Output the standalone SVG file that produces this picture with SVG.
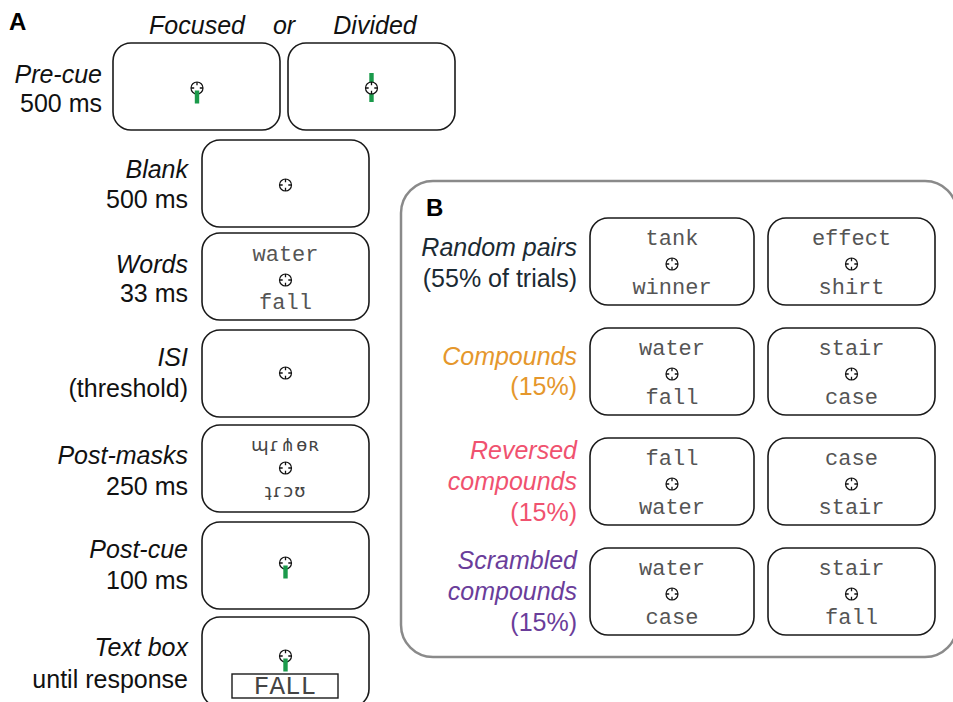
<svg xmlns="http://www.w3.org/2000/svg" xmlns:xlink="http://www.w3.org/1999/xlink" width="953" height="702" viewBox="0 0 953 702">
<style>
.box{fill:#fff;stroke:#1a1a1a;stroke-width:1.6}
.lbl{font-family:"Liberation Sans",Arial,sans-serif;font-size:25px;fill:#111;text-anchor:end}
.it{font-style:italic}
.hd{font-family:"Liberation Sans",Arial,sans-serif;font-size:25px;font-style:italic;fill:#111;text-anchor:middle}
.pl{font-family:"Liberation Sans",Arial,sans-serif;font-size:24px;font-weight:bold;fill:#000}
.w{font-family:"Liberation Mono","Courier New",monospace;font-size:22px;fill:#555;text-anchor:middle}
.m{font-family:"DejaVu Sans",sans-serif;font-size:18px;fill:#444;text-anchor:middle;letter-spacing:1px}
.cue{fill:#1b9a4b}
</style>
<defs>
<g id="fix">
<circle r="6" fill="#fff" stroke="#111" stroke-width="1.2"/>
<path d="M0,-6V-2.8M0,6V2.8M-6,0H-2.8M6,0H2.8" stroke="#111" stroke-width="1.3"/>
</g>
<g id="fixc">
<circle r="6" fill="#fff" stroke="#111" stroke-width="1.2"/>
<rect x="-2.2" y="2.5" width="4.4" height="13" class="cue"/>
<path d="M0,-6V-2.8M-6,0H-2.8M6,0H2.8" stroke="#111" stroke-width="1.3"/>
</g>
</defs>

<text x="9" y="30" class="pl">A</text>
<text x="197" y="34" class="hd">Focused</text>
<text x="284" y="34" class="hd">or</text>
<text x="375" y="34" class="hd">Divided</text>

<g id="precue-focused">
<rect x="113" y="43" width="167" height="87" rx="18" class="box"/>
<use xlink:href="#fixc" x="197" y="88"/>
</g>
<g id="precue-divided">
<rect x="288" y="43" width="167" height="87" rx="18" class="box"/>
<rect x="369.3" y="73" width="4.4" height="29" class="cue"/>
<use xlink:href="#fix" x="371.5" y="88"/>
</g>
<g id="label-precue">
<text x="102" y="83" class="lbl it">Pre-cue</text>
<text x="102" y="112" class="lbl">500 ms</text>
</g>

<g id="blank">
<rect x="202" y="140" width="167" height="87" rx="18" class="box"/>
<use xlink:href="#fix" x="285.5" y="185"/>
<text x="188" y="178" class="lbl it">Blank</text>
<text x="188" y="208" class="lbl">500 ms</text>
</g>

<g id="words">
<rect x="202" y="233" width="167" height="87" rx="18" class="box"/>
<text x="285.5" y="261" class="w">water</text>
<use xlink:href="#fix" x="285.5" y="280"/>
<text x="285.5" y="309" class="w">fall</text>
<text x="188" y="273" class="lbl it">Words</text>
<text x="188" y="302" class="lbl">33 ms</text>
</g>

<g id="isi">
<rect x="202" y="330" width="167" height="87" rx="18" class="box"/>
<use xlink:href="#fix" x="285.5" y="373"/>
<text x="188" y="366" class="lbl it">ISI</text>
<text x="188" y="397" class="lbl">(threshold)</text>
</g>

<g id="postmasks">
<rect x="202" y="425" width="167" height="87" rx="18" class="box"/>
<text x="285.5" y="451" class="m">ɰɾ⋔ɵʀ</text>
<use xlink:href="#fix" x="285.5" y="468"/>
<text x="285.5" y="497" class="m">ʇɾↄʊ</text>
<text x="188" y="464" class="lbl it">Post-masks</text>
<text x="188" y="495" class="lbl">250 ms</text>
</g>

<g id="postcue">
<rect x="202" y="522" width="167" height="87" rx="18" class="box"/>
<use xlink:href="#fixc" x="285.5" y="563"/>
<text x="188" y="558" class="lbl it">Post-cue</text>
<text x="188" y="589" class="lbl">100 ms</text>
</g>

<g id="textbox">
<rect x="202" y="617" width="167" height="90" rx="18" class="box"/>
<use xlink:href="#fixc" x="285.5" y="656"/>
<rect x="232" y="674" width="106" height="24" fill="#fff" stroke="#1a1a1a" stroke-width="1.4"/>
<text x="285" y="694" class="w" style="font-size:26px;fill:#444">FALL</text>
<text x="188" y="656" class="lbl it">Text box</text>
<text x="188" y="688" class="lbl">until response</text>
</g>

<g id="panelB">
<rect x="401" y="181" width="556" height="476" rx="32" fill="#fff" stroke="#8a8a8a" stroke-width="2.5"/>
<text x="426" y="216" class="pl">B</text>
</g>

<g id="random">
<text x="577" y="256" class="lbl it" style="fill:#1b2a33">Random pairs</text>
<text x="577" y="287" class="lbl" style="fill:#1b2a33">(55% of trials)</text>
<rect x="590" y="218" width="164" height="87" rx="18" class="box"/>
<text x="672" y="245" class="w">tank</text>
<use xlink:href="#fix" x="672" y="264"/>
<text x="672" y="294" class="w">winner</text>
<rect x="768" y="218" width="167" height="87" rx="18" class="box"/>
<text x="851.5" y="245" class="w">effect</text>
<use xlink:href="#fix" x="851.5" y="264"/>
<text x="851.5" y="294" class="w">shirt</text>
</g>

<g id="compounds">
<text x="577" y="365" class="lbl it" style="fill:#e5972c">Compounds</text>
<text x="577" y="395" class="lbl" style="fill:#e5972c">(15%)</text>
<rect x="590" y="328" width="164" height="87" rx="18" class="box"/>
<text x="672" y="355" class="w">water</text>
<use xlink:href="#fix" x="672" y="374"/>
<text x="672" y="404" class="w">fall</text>
<rect x="768" y="328" width="167" height="87" rx="18" class="box"/>
<text x="851.5" y="355" class="w">stair</text>
<use xlink:href="#fix" x="851.5" y="374"/>
<text x="851.5" y="404" class="w">case</text>
</g>

<g id="reversed">
<text x="577" y="459" class="lbl it" style="fill:#f0526f">Reversed</text>
<text x="577" y="490" class="lbl it" style="fill:#f0526f">compounds</text>
<text x="577" y="521" class="lbl" style="fill:#f0526f">(15%)</text>
<rect x="590" y="438" width="164" height="87" rx="18" class="box"/>
<text x="672" y="465" class="w">fall</text>
<use xlink:href="#fix" x="672" y="484"/>
<text x="672" y="514" class="w">water</text>
<rect x="768" y="438" width="167" height="87" rx="18" class="box"/>
<text x="851.5" y="465" class="w">case</text>
<use xlink:href="#fix" x="851.5" y="484"/>
<text x="851.5" y="514" class="w">stair</text>
</g>

<g id="scrambled">
<text x="577" y="569" class="lbl it" style="fill:#6a3d9a">Scrambled</text>
<text x="577" y="600" class="lbl it" style="fill:#6a3d9a">compounds</text>
<text x="577" y="631" class="lbl" style="fill:#6a3d9a">(15%)</text>
<rect x="590" y="548" width="164" height="87" rx="18" class="box"/>
<text x="672" y="575" class="w">water</text>
<use xlink:href="#fix" x="672" y="594"/>
<text x="672" y="624" class="w">case</text>
<rect x="768" y="548" width="167" height="87" rx="18" class="box"/>
<text x="851.5" y="575" class="w">stair</text>
<use xlink:href="#fix" x="851.5" y="594"/>
<text x="851.5" y="624" class="w">fall</text>
</g>
<g id="connectors"/>
</svg>
